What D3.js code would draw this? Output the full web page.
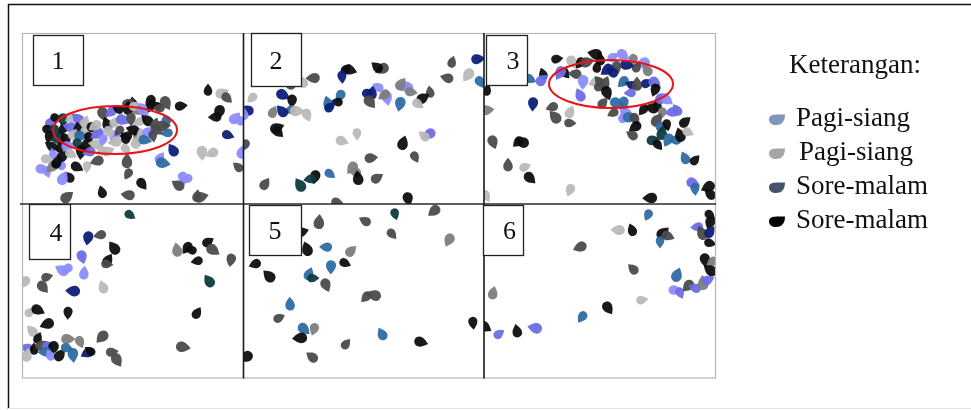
<!DOCTYPE html>
<html>
<head>
<meta charset="utf-8">
<script src="https://cdn.jsdelivr.net/npm/d3@7"></script>
<style>
  html, body { margin: 0; padding: 0; background: #fff; }
  svg { display: block; }
  text { font-family: "Liberation Serif", "DejaVu Serif", serif; fill: #111; }
</style>
</head>
<body>
<svg width="971" height="410"></svg>
<script>
// colour codes used in the point lists
const colors = {
  k: '#0b0b0b', // black
  d: '#4b4b4b', // dark grey
  m: '#7d7d7d', // mid grey
  g: '#b9b9b9', // light grey
  n: '#0c1f78', // navy
  b: '#2f6ba3', // steel blue
  p: '#6e6ee6', // purple blue
  l: '#8d8dff', // light purple
  t: '#0f3c40'  // dark teal
};

// points per panel: [x, y, colour] in panel units
const panel1 = [
  [185,56,'k'],[199,59,'g'],[204,64,'d'],[196,78,'k'],[192,83,'k'],[217,86,'l'],[212,84,'l'],
  [205,101,'n'],[179,119,'g'],[189,119,'g'],[215,133,'d'],[219,118,'l'],[158,72,'k'],[143,69,'d'],
  [127,67,'k'],[133,72,'k'],[110,70,'k'],[105,69,'d'],[115,76,'m'],[143,88,'b'],[144,99,'b'],
  [150,116,'n'],[137,124,'l'],[140,129,'b'],[160,144,'l'],[164,145,'l'],[155,151,'d'],[174,162,'d'],
  [178,163,'d'],[119,150,'k'],[105,140,'d'],[105,161,'d'],[79,158,'k'],[44,163,'d'],[54,133,'k'],
  [64,133,'g'],[74,127,'d'],[46,143,'k'],[40,144,'l'],[19,135,'l'],[24,138,'l'],[29,133,'m'],
  [37,131,'l'],[104,127,'d'],[85,117,'g'],[103,115,'g'],[91,103,'l'],[103,102,'k'],[115,103,'m'],
  [28,88,'p'],[33,84,'k'],[40,86,'t'],[48,84,'g'],[55,85,'p'],[62,88,'g'],[25,95,'k'],[32,97,'t'],
  [40,95,'k'],[47,93,'p'],[55,95,'k'],[63,96,'g'],[70,94,'k'],[26,103,'k'],[35,105,'t'],[42,104,'k'],
  [50,100,'g'],[58,102,'b'],[66,104,'k'],[74,100,'p'],[28,112,'k'],[37,113,'k'],[45,112,'l'],
  [55,110,'t'],[63,112,'k'],[72,110,'g'],[30,120,'l'],[40,122,'k'],[48,120,'g'],[58,118,'k'],
  [66,118,'p'],[78,115,'g'],[34,128,'k'],[24,125,'g'],[80,80,'d'],[88,78,'p'],[95,75,'k'],
  [105,74,'k'],[112,72,'g'],[120,76,'l'],[128,72,'k'],[136,74,'d'],[84,90,'k'],[92,88,'g'],
  [100,86,'p'],[108,85,'d'],[116,88,'g'],[124,86,'k'],[132,90,'d'],[140,92,'d'],[86,98,'g'],
  [96,97,'d'],[110,96,'k'],[118,100,'g'],[126,98,'l'],[134,96,'d'],[80,106,'l'],[92,108,'g'],
  [102,104,'k'],[114,108,'g'],[122,106,'b'],[130,102,'d'],[72,92,'g']
];
const panel2 = [
  [103,35,'k'],[107,36,'k'],[99,43,'n'],[139,35,'d'],[134,33,'k'],[209,28,'d'],[235,25,'n'],
  [237,48,'b'],[225,41,'g'],[204,44,'d'],[187,58,'d'],[180,64,'k'],[175,70,'g'],[157,70,'b'],
  [160,53,'l'],[165,52,'l'],[158,50,'m'],[168,58,'m'],[144,64,'l'],[141,61,'m'],[135,53,'l'],
  [129,59,'n'],[125,59,'n'],[127,68,'d'],[97,62,'b'],[94,68,'k'],[85,69,'b'],[87,73,'n'],
  [40,61,'n'],[49,67,'k'],[47,76,'b'],[39,77,'n'],[30,78,'m'],[54,77,'g'],[64,81,'g'],[9,64,'g'],
  [4,76,'n'],[1,80,'l'],[34,94,'k'],[35,98,'k'],[2,111,'d'],[70,44,'d'],[60,48,'g'],[49,49,'d'],
  [99,107,'g'],[114,100,'g'],[186,100,'p'],[181,102,'g'],[160,109,'k'],[128,124,'d'],[172,123,'d'],
  [109,134,'m'],[112,138,'m'],[115,144,'k'],[134,144,'d'],[87,140,'b'],[72,143,'k'],[67,145,'t'],
  [57,151,'t'],[22,150,'d'],[94,168,'d'],[165,165,'k']
];
const panel3 = [
  [73,25,'k'],[88,28,'g'],[96,29,'k'],[111,20,'k'],[116,25,'k'],[129,23,'l'],[139,21,'l'],
  [149,26,'m'],[159,29,'l'],[163,36,'m'],[153,33,'d'],[143,31,'n'],[133,33,'d'],[123,36,'n'],
  [128,38,'n'],[113,33,'k'],[103,28,'d'],[81,39,'k'],[76,39,'p'],[91,40,'d'],[59,40,'k'],
  [58,46,'p'],[46,45,'b'],[99,48,'l'],[111,48,'g'],[115,47,'d'],[121,49,'d'],[116,53,'d'],
  [123,59,'k'],[139,48,'b'],[147,51,'n'],[153,50,'d'],[163,49,'n'],[171,49,'p'],[171,56,'k'],
  [146,59,'p'],[96,61,'p'],[119,69,'d'],[133,69,'b'],[140,69,'b'],[129,79,'d'],[141,78,'l'],
  [139,83,'l'],[146,83,'b'],[151,85,'d'],[159,76,'k'],[168,74,'k'],[173,71,'k'],[178,64,'p'],
  [183,66,'l'],[178,79,'m'],[188,78,'p'],[193,76,'p'],[173,86,'d'],[178,93,'b'],[183,91,'k'],
  [151,93,'k'],[148,101,'d'],[178,99,'t'],[169,106,'t'],[174,111,'k'],[184,106,'b'],[191,106,'b'],
  [196,101,'k'],[201,88,'k'],[204,98,'g'],[49,70,'n'],[68,73,'d'],[71,83,'d'],[86,78,'g'],
  [86,89,'d'],[9,108,'d'],[34,108,'k'],[38,108,'k'],[24,131,'d'],[41,133,'g'],[46,144,'k'],
  [86,156,'g'],[166,164,'k'],[201,124,'b'],[211,126,'k'],[209,149,'p'],[211,155,'b'],[224,153,'k'],
  [226,160,'k'],[3,56,'k'],[3,76,'m'],[2,162,'g']
];
const panel4 = [
  [107,11,'t'],[65,34,'n'],[77,31,'d'],[91,44,'k'],[85,56,'k'],[84,60,'d'],[59,53,'p'],[44,65,'l'],
  [39,66,'l'],[61,69,'l'],[24,73,'d'],[20,83,'d'],[2,78,'g'],[50,87,'n'],[80,83,'g'],[7,108,'g'],
  [15,106,'k'],[45,109,'k'],[24,120,'k'],[9,127,'g'],[15,134,'k'],[45,135,'m'],[57,138,'m'],
  [79,133,'d'],[4,144,'p'],[11,145,'k'],[19,141,'d'],[25,143,'p'],[30,144,'k'],[22,148,'b'],
  [27,151,'l'],[37,151,'k'],[44,144,'b'],[50,151,'b'],[64,149,'n'],[67,147,'k'],[4,151,'g'],
  [89,148,'d'],[94,156,'d'],[164,44,'k'],[168,46,'k'],[154,46,'m'],[185,38,'k'],[190,46,'d'],
  [208,56,'d'],[174,57,'k'],[186,77,'t'],[174,109,'k'],[160,143,'d']
];
const panel5 = [
  [152,10,'t'],[191,7,'d'],[122,17,'d'],[76,18,'d'],[59,28,'k'],[149,30,'d'],[206,36,'m'],
  [83,43,'b'],[64,45,'k'],[108,47,'m'],[102,59,'k'],[88,63,'b'],[12,60,'k'],[26,72,'k'],
  [66,70,'b'],[70,74,'t'],[83,81,'d'],[123,93,'d'],[131,91,'d'],[47,100,'b'],[36,114,'d'],
  [61,125,'b'],[71,125,'m'],[57,134,'k'],[139,130,'b'],[103,140,'d'],[178,138,'k'],[230,119,'k'],
  [3,153,'k'],[69,153,'d']
];
const panel6 = [
  [164,11,'b'],[134,26,'g'],[148,26,'k'],[179,29,'k'],[184,32,'d'],[176,38,'b'],[96,43,'d'],
  [149,65,'d'],[193,71,'b'],[191,86,'l'],[196,89,'p'],[204,82,'d'],[211,84,'p'],[219,79,'m'],
  [224,76,'p'],[226,11,'k'],[226,19,'k'],[213,23,'p'],[218,29,'d'],[226,28,'n'],[226,39,'k'],
  [221,56,'k'],[228,58,'m'],[226,66,'k'],[9,89,'m'],[158,96,'g'],[124,104,'k'],[98,113,'b'],
  [51,124,'p'],[33,127,'k'],[15,130,'p'],[1,123,'k']
];

const panelLabels = ['1', '2', '3', '4', '5', '6'];
// red highlight ellipses: [panel index, cx, cy, rx, ry] in panel units
const highlights = [[0, 92, 96, 62, 24], [2, 127, 50, 62, 24]];

const legendLabels = ['Pagi-siang', 'Pagi-siang', 'Sore-malam', 'Sore-malam'];
const legendColors = ['#7f96ba', '#a6a6a6', '#44546a', '#000000'];

const svg = d3.select('svg');

// blur to get the soft photo look
const defs = svg.append('defs');
defs.append('filter').attr('id', 'soft')
  .append('feGaussianBlur').attr('stdDeviation', 0.55);

// outer frame
svg.append('line').attr('x1', 8).attr('x2', 971).attr('y1', 4.5).attr('y2', 4.5)
  .attr('stroke', '#111').attr('stroke-width', 1.5);
svg.append('line').attr('x1', 8.5).attr('x2', 8.5).attr('y1', 4).attr('y2', 409)
  .attr('stroke', '#111').attr('stroke-width', 1.5);
svg.append('line').attr('x1', 8).attr('x2', 971).attr('y1', 408.5).attr('y2', 408.5)
  .attr('stroke', '#e4e4e4');

// panel frames
const cols = [[23, 243], [243, 484], [484, 716]];
const rows = [[34, 204], [204, 378]];
const panels = [panel1, panel2, panel3, panel4, panel5, panel6];

let frames = panels.map(function(pts, i) {
  let c = cols[i % 3], r = rows[Math.floor(i / 3)];
  let w = c[1] - c[0], h = r[1] - r[0];
  return {
    pts: pts,
    x: d3.scaleLinear().domain([0, w]).range(c),
    y: d3.scaleLinear().domain([0, h]).range(r)
  };
});

const drop = 'M0,-6 C1.8,-3.6 4,-1.6 4,1.4 A4,4 0 1 1 -4,1.4 C-4,-1.6 -1.8,-3.6 0,-6Z';

let chart = svg.append('g').attr('filter', 'url(#soft)');

frames.forEach(function(f, pi) {
  let clip = defs.append('clipPath').attr('id', 'clip' + pi);
  clip.append('rect')
    .attr('x', f.x.range()[0]).attr('y', f.y.range()[0])
    .attr('width', f.x.range()[1] - f.x.range()[0])
    .attr('height', f.y.range()[1] - f.y.range()[0]);

  chart.append('g')
    .attr('clip-path', 'url(#clip' + pi + ')')
    .selectAll('path')
    .data(f.pts)
    .join('path')
    .attr('d', drop)
    .attr('transform', function(d, i) {
      let a = ((i * 67 + pi * 41) % 360);
      let s = 1.08 + ((i * 13) % 5) * 0.06;
      return 'translate(' + f.x(d[0]) + ',' + f.y(d[1]) + ') rotate(' + a + ') scale(' + s + ')';
    })
    .style('fill', function(d) { return colors[d[2]]; })
    .style('opacity', 0.95);
});

// photo border and dividers
svg.append('rect').attr('x', 22.5).attr('y', 33.5).attr('width', 693).attr('height', 344.5)
  .attr('fill', 'none').attr('stroke', '#b5b5b5').attr('stroke-width', 1.2);
svg.append('line').attr('x1', 20).attr('x2', 716).attr('y1', 204).attr('y2', 204)
  .attr('stroke', '#2a2a2a').attr('stroke-width', 1.6);
[243.5, 484].forEach(function(x) {
  svg.append('line').attr('x1', x).attr('x2', x).attr('y1', 33).attr('y2', 378.5)
    .attr('stroke', '#1a1a1a').attr('stroke-width', 1.6);
});

// highlight ellipses
svg.selectAll('ellipse.hl')
  .data(highlights)
  .join('ellipse')
  .attr('class', 'hl')
  .attr('cx', function(d) { return frames[d[0]].x(d[1]); })
  .attr('cy', function(d) { return frames[d[0]].y(d[2]); })
  .attr('rx', function(d) { return d[3]; })
  .attr('ry', function(d) { return d[4]; })
  .attr('fill', 'none').attr('stroke', '#e8141b').attr('stroke-width', 2);

// numbered boxes
const boxes = [[33, 35, 50, 50], [251, 33, 50, 53], [486, 35, 41, 50],
               [29, 204, 41, 55], [249, 205, 52, 50], [483, 205, 40, 50]];
let lab = svg.selectAll('g.lab')
  .data(panelLabels)
  .join('g')
  .attr('class', 'lab');
lab.append('rect')
  .attr('x', function(d, i) { return boxes[i][0] + 0.5; })
  .attr('y', function(d, i) { return boxes[i][1] + 0.5; })
  .attr('width', function(d, i) { return boxes[i][2]; })
  .attr('height', function(d, i) { return boxes[i][3]; })
  .attr('fill', '#fff').attr('stroke', '#222').attr('stroke-width', 1.3);
lab.append('text')
  .attr('x', function(d, i) { return boxes[i][0] + boxes[i][2] * (i == 0 || i == 1 || i == 4 ? 0.5 : 0.66); })
  .attr('y', function(d, i) { return boxes[i][1] + boxes[i][3] / 2 + 9; })
  .attr('text-anchor', 'middle')
  .style('font-size', '26px')
  .text(function(d) { return d; });

// legend
svg.append('text').attr('x', 789).attr('y', 73).style('font-size', '27px').text('Keterangan:');
let ly = d3.scalePoint().domain(d3.range(legendLabels.length)).range([119, 221]);
let leg = svg.selectAll('g.leg')
  .data(legendLabels)
  .join('g')
  .attr('class', 'leg')
  .attr('transform', function(d, i) { return 'translate(0,' + ly(i) + ')'; });
leg.append('path')
  .attr('d', 'M-8,-1 C-8,-5 -3,-5.5 1,-5.5 L8,-5.5 C8,0 6,5 -1,5 C-5,5 -8,3 -8,-1Z')
  .attr('transform', 'translate(777,1)')
  .style('fill', function(d, i) { return legendColors[i]; });
leg.append('text')
  .attr('x', function(d, i) { return i == 1 ? 799 : 796; })
  .attr('y', 7)
  .style('font-size', '27px')
  .text(function(d) { return d; });
</script>
</body>
</html>
